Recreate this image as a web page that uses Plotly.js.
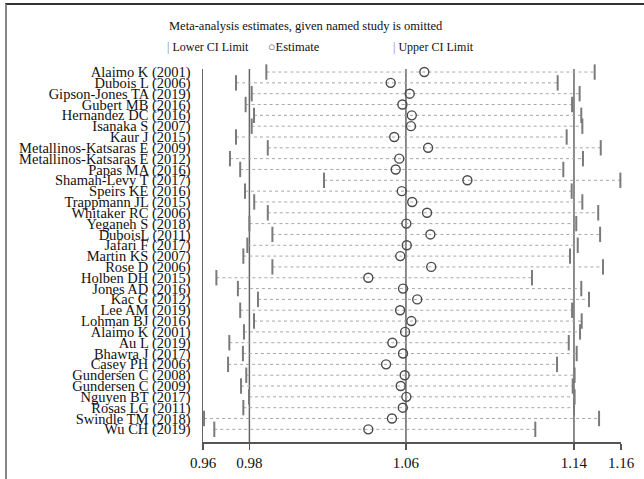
<!DOCTYPE html>
<html>
<head>
<meta charset="utf-8">
<script src="https://cdn.plot.ly/plotly-3.0.1.min.js"></script>
<style>
  html, body { margin: 0; padding: 0; background: #ffffff; }
  #wrap { position: relative; width: 644px; height: 479px; overflow: hidden; }
  #chart { position: absolute; left: 0; top: 0; width: 644px; height: 479px; }
  #frame { position: absolute; left: 5px; top: 3px; width: 700px; height: 600px;
           border-top: 2px solid #333; border-left: 2px solid #888; pointer-events: none; }
</style>
</head>
<body>
<div id="wrap">
  <div id="chart"></div>
  <div id="frame"></div>
</div>
<script>
const studies = [
  "Alaimo K (2001)", "Dubois L (2006)", "Gipson-Jones TA (2019)", "Gubert MB (2016)",
  "Hernandez DC (2016)", "Isanaka S (2007)", "Kaur J (2015)", "Metallinos-Katsaras E (2009)",
  "Metallinos-Katsaras E (2012)", "Papas MA (2016)", "Shamah-Levy T (2017)", "Speirs KE (2016)",
  "Trappmann JL (2015)", "Whitaker RC (2006)", "Yeganeh S (2018)", "DuboisL (2011)",
  "Jafari F (2017)", "Martin KS (2007)", "Rose D (2006)", "Holben DH (2015)",
  "Jones AD (2016)", "Kac G (2012)", "Lee AM (2019)", "Lohman BJ (2016)",
  "Alaimo K (2001)", "Au L (2019)", "Bhawra J (2017)", "Casey PH (2006)",
  "Gundersen C (2008)", "Gundersen C (2009)", "Nguyen BT (2017)", "Rosas LG (2011)",
  "Swindle TM (2018)", "Wu CH (2019)"
];
const lowerCI = [
  0.9903, 0.9758, 0.9833, 0.9804, 0.9844, 0.9833, 0.9758, 0.9910,
  0.9729, 0.9778, 1.0179, 0.9801, 0.9845, 0.9910, 0.9822, 0.9932,
  0.9812, 0.9793, 0.9932, 0.9664, 0.9767, 0.9863, 0.9778, 0.9844,
  0.9796, 0.9726, 0.9791, 0.9720, 0.9807, 0.9782, 0.9820, 0.9793,
  0.9605, 0.9654
];
const estimate = [
  1.0659, 1.0498, 1.0589, 1.0554, 1.0599, 1.0595, 1.0515, 1.0677,
  1.0539, 1.0522, 1.0865, 1.0551, 1.0601, 1.0672, 1.0573, 1.0688,
  1.0575, 1.0544, 1.0692, 1.0391, 1.0557, 1.0625, 1.0543, 1.0597,
  1.0567, 1.0506, 1.0557, 1.0476, 1.0565, 1.0546, 1.0573, 1.0556,
  1.0504, 1.0391
];
const upperCI = [
  1.1474, 1.1297, 1.1402, 1.1366, 1.1410, 1.1415, 1.1340, 1.1503,
  1.1418, 1.1324, 1.1597, 1.1364, 1.1415, 1.1491, 1.1386, 1.1500,
  1.1393, 1.1356, 1.1514, 1.1174, 1.1410, 1.1447, 1.1366, 1.1412,
  1.1404, 1.1350, 1.1388, 1.1294, 1.1378, 1.1369, 1.1378, 1.1375,
  1.1495, 1.1190
];
// overall pooled estimate: lower CI, estimate, upper CI
const overallCI = [0.9822, 1.0571, 1.1375];
const axisMin = 0.96, axisMax = 1.16;
const tickLabels = ["0.96", "0.98", "1.06", "1.14", "1.16"];

const rows = studies.map((_, i) => i + 1);

const lineX = [], lineY = [];
rows.forEach((r, i) => { lineX.push(lowerCI[i], upperCI[i], null); lineY.push(r, r, null); });

const serif = "Liberation Serif, Times New Roman, serif";

const traces = [
  { x: lineX, y: lineY, mode: "lines", type: "scatter", hoverinfo: "skip",
    line: { color: "#a8a8a8", width: 1, dash: "dot" }, showlegend: false },
  { x: lowerCI, y: rows, mode: "markers", type: "scatter", cliponaxis: false,
    marker: { symbol: "line-ns", size: 11, line: { color: "#7a7a7a", width: 2 } }, showlegend: false },
  { x: upperCI, y: rows, mode: "markers", type: "scatter", cliponaxis: false,
    marker: { symbol: "line-ns", size: 11, line: { color: "#7a7a7a", width: 2 } }, showlegend: false },
  { x: estimate, y: rows, mode: "markers", type: "scatter", cliponaxis: false,
    marker: { symbol: "circle-open", size: 9, color: "#4a4a4a", line: { color: "#4a4a4a", width: 1.4 } }, showlegend: false }
];

const shapes = overallCI.map(v => ({
  type: "line", xref: "x", yref: "paper", x0: v, x1: v, y0: 0, y1: 1,
  line: { color: "#666", width: 1.5 }, layer: "below"
}));

const layout = {
  width: 644, height: 479,
  margin: { l: 203, r: 23, t: 69, b: 37 },
  paper_bgcolor: "#ffffff", plot_bgcolor: "#ffffff",
  font: { family: serif, size: 14, color: "#111" },
  showlegend: false,
  xaxis: {
    range: [axisMin, axisMax], showgrid: false, zeroline: false,
    showline: true, linecolor: "#555", linewidth: 1.5,
    ticks: "outside", ticklen: 6, tickwidth: 1.5, tickcolor: "#555",
    tickvals: [axisMin, overallCI[0], overallCI[1], overallCI[2], axisMax],
    ticktext: tickLabels,
    tickfont: { family: serif, size: 15, color: "#111" }
  },
  yaxis: {
    range: [35.17, 0.72], showgrid: false, zeroline: false,
    showline: true, linecolor: "#666", linewidth: 1.5,
    ticks: "", tickvals: rows, ticktext: studies,
    ticklabelstandoff: 8,
    tickfont: { family: serif, size: 14.5, color: "#111" }
  },
  shapes: shapes,
  annotations: [
    { xref: "paper", yref: "paper", x: (167 - 203) / 418, y: (442 - 26) / 373, xanchor: "left", yanchor: "middle",
      text: "Meta-analysis estimates, given named study is omitted", showarrow: false,
      font: { family: serif, size: 12.5, color: "#111" } },
    { xref: "paper", yref: "paper", x: (165 - 203) / 418, y: (442 - 47) / 373, xanchor: "left", yanchor: "middle",
      text: "<span style='color:#888'>|</span> Lower CI Limit", showarrow: false,
      font: { family: serif, size: 12, color: "#111" } },
    { xref: "paper", yref: "paper", x: (266 - 203) / 418, y: (442 - 47) / 373, xanchor: "left", yanchor: "middle",
      text: "<span style='color:#555'>○</span>Estimate", showarrow: false,
      font: { family: serif, size: 12.5, color: "#111" } },
    { xref: "paper", yref: "paper", x: (391 - 203) / 418, y: (442 - 47) / 373, xanchor: "left", yanchor: "middle",
      text: "<span style='color:#888'>|</span> Upper CI Limit", showarrow: false,
      font: { family: serif, size: 12, color: "#111" } }
  ]
};

Plotly.newPlot("chart", traces, layout, { displayModeBar: false, staticPlot: true });
</script>
</body>
</html>
